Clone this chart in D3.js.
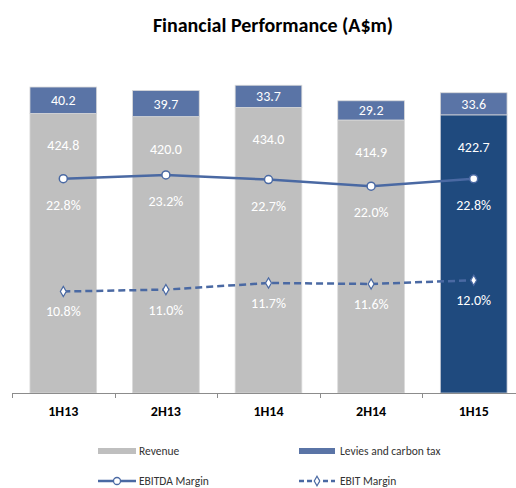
<!DOCTYPE html>
<html>
<head>
<meta charset="utf-8">
<script src="https://cdn.jsdelivr.net/npm/d3@7"></script>
<style>
  body { margin: 0; background: #fff; }
  svg { display: block; font-family: Carlito, Lato, "Open Sans", sans-serif; }
</style>
</head>
<body>
<div id="chart"></div>
<script>
// chart data
const periods = ['1H13', '2H13', '1H14', '2H14', '1H15'];
const revenue = [424.8, 420.0, 434.0, 414.9, 422.7];
const levies = [40.2, 39.7, 33.7, 29.2, 33.6];
const ebitdaMargin = [22.8, 23.2, 22.7, 22.0, 22.8];
const ebitMargin = [10.8, 11.0, 11.7, 11.6, 12.0];

const W = 516, H = 488;
const svg = d3.select('#chart').append('svg')
  .attr('width', W)
  .attr('height', H);

// scales
const x = d3.scaleBand()
  .domain(periods)
  .range([12, 525])
  .paddingInner(0.35)
  .paddingOuter(0.175);

const y = d3.scaleLinear().domain([0, 500]).range([393, 64]);
const y2 = d3.scaleLinear().domain([0, 35]).range([393, 64]);

// title
svg.append('text')
  .attr('x', 273)
  .attr('y', 32)
  .attr('text-anchor', 'middle')
  .style('font-size', '20px')
  .style('font-weight', 'bold')
  .style('fill', '#000')
  .text('Financial Performance (A$m)');

// bars
const grey = '#bfbfbf', navy = '#1f4a7e', steel = '#5a74a6', lineCol = '#4a69a3';

const bars = svg.append('g');
periods.forEach((p, i) => {
  const last = i === periods.length - 1;
  const mid = x(p) + x.bandwidth() / 2;
  bars.append('rect')
    .attr('x', x(p))
    .attr('y', y(revenue[i]))
    .attr('width', x.bandwidth())
    .attr('height', y(0) - y(revenue[i]))
    .attr('fill', last ? navy : grey)
    .attr('stroke', last ? '#c8cdd6' : '#d9d9d9')
    .attr('stroke-width', 0.8);
  bars.append('rect')
    .attr('x', x(p))
    .attr('y', y(revenue[i] + levies[i]))
    .attr('width', x.bandwidth())
    .attr('height', y(revenue[i]) - y(revenue[i] + levies[i]))
    .attr('fill', steel)
    .attr('stroke', '#d9d9d9')
    .attr('stroke-width', 0.8);

  // labels
  bars.append('text')
    .attr('x', mid)
    .attr('y', y(revenue[i] + levies[i] / 2) + 5)
    .attr('text-anchor', 'middle')
    .style('font-size', '14px')
    .style('fill', '#fff')
    .text(levies[i].toFixed(1));
  bars.append('text')
    .attr('x', mid)
    .attr('y', y(revenue[i]) + 37)
    .attr('text-anchor', 'middle')
    .style('font-size', '14px')
    .style('fill', '#fff')
    .text(revenue[i].toFixed(1));
});

// x axis
const axis = svg.append('g');
axis.append('line')
  .attr('x1', 12).attr('x2', W)
  .attr('y1', 393.5).attr('y2', 393.5)
  .attr('stroke', '#8c8c8c');
const step = x.step();
d3.range(periods.length + 1).forEach(k => {
  const tx = Math.round(12 + k * step) + 0.5;
  axis.append('line')
    .attr('x1', tx).attr('x2', tx)
    .attr('y1', 393.5).attr('y2', 398)
    .attr('stroke', '#8c8c8c');
});
periods.forEach(p => {
  axis.append('text')
    .attr('x', x(p) + x.bandwidth() / 2)
    .attr('y', 416)
    .attr('text-anchor', 'middle')
    .style('font-size', '14px')
    .style('font-weight', 'bold')
    .style('fill', '#000')
    .text(p);
});

// lines
const cx = d => x(d) + x.bandwidth() / 2;
const marginLine = d3.line().x((d, i) => cx(periods[i])).y(d => y2(d));
svg.append('path')
  .datum(ebitdaMargin)
  .attr('d', marginLine)
  .attr('fill', 'none')
  .attr('stroke', lineCol)
  .attr('stroke-width', 2.5);
svg.append('path')
  .datum(ebitMargin)
  .attr('d', marginLine)
  .attr('fill', 'none')
  .attr('stroke', lineCol)
  .attr('stroke-width', 2.5)
  .attr('stroke-dasharray', '7,4');

svg.selectAll('.dotA')
  .data(ebitdaMargin)
  .enter().append('circle')
  .attr('cx', (d, i) => cx(periods[i]))
  .attr('cy', d => y2(d))
  .attr('r', 4)
  .attr('fill', '#fff')
  .attr('stroke', lineCol)
  .attr('stroke-width', 1.5);

svg.selectAll('.dotB')
  .data(ebitMargin)
  .enter().append('path')
  .attr('transform', (d, i) => `translate(${cx(periods[i])},${y2(d)})`)
  .attr('d', d3.symbol(d3.symbolDiamond, 30)())
  .attr('fill', '#fff')
  .attr('stroke', lineCol)
  .attr('stroke-width', 1.2);

svg.selectAll('.lblA')
  .data(ebitdaMargin)
  .enter().append('text')
  .attr('x', (d, i) => cx(periods[i]))
  .attr('y', d => y2(d) + 31)
  .attr('text-anchor', 'middle')
  .style('font-size', '14px')
  .style('fill', '#fff')
  .text(d => d.toFixed(1) + '%');

svg.selectAll('.lblB')
  .data(ebitMargin)
  .enter().append('text')
  .attr('x', (d, i) => cx(periods[i]))
  .attr('y', d => y2(d) + 25)
  .attr('text-anchor', 'middle')
  .style('font-size', '14px')
  .style('fill', '#fff')
  .text(d => d.toFixed(1) + '%');

// legend
const lg = svg.append('g').style('font-size', '11.5px').style('fill', '#333');
lg.append('rect').attr('x', 98).attr('y', 448).attr('width', 38).attr('height', 6).attr('fill', grey);
lg.append('text').attr('x', 139).attr('y', 455).text('Revenue');
lg.append('rect').attr('x', 299).attr('y', 448).attr('width', 36).attr('height', 6).attr('fill', steel);
lg.append('text').attr('x', 340).attr('y', 455).text('Levies and carbon tax');

lg.append('line').attr('x1', 98).attr('x2', 136).attr('y1', 481).attr('y2', 481)
  .attr('stroke', lineCol).attr('stroke-width', 2.5);
lg.append('circle').attr('cx', 117).attr('cy', 481).attr('r', 3.5)
  .attr('fill', '#fff').attr('stroke', lineCol).attr('stroke-width', 1.3);
lg.append('text').attr('x', 139).attr('y', 485).text('EBITDA Margin');

lg.append('line').attr('x1', 299).attr('x2', 335).attr('y1', 481).attr('y2', 481)
  .attr('stroke', lineCol).attr('stroke-width', 2.5).attr('stroke-dasharray', '5,3');
lg.append('path').attr('transform', 'translate(317,481)')
  .attr('d', d3.symbol(d3.symbolDiamond, 26)())
  .attr('fill', '#fff').attr('stroke', lineCol).attr('stroke-width', 1.2);
lg.append('text').attr('x', 340).attr('y', 485).text('EBIT Margin');
</script>
</body>
</html>
